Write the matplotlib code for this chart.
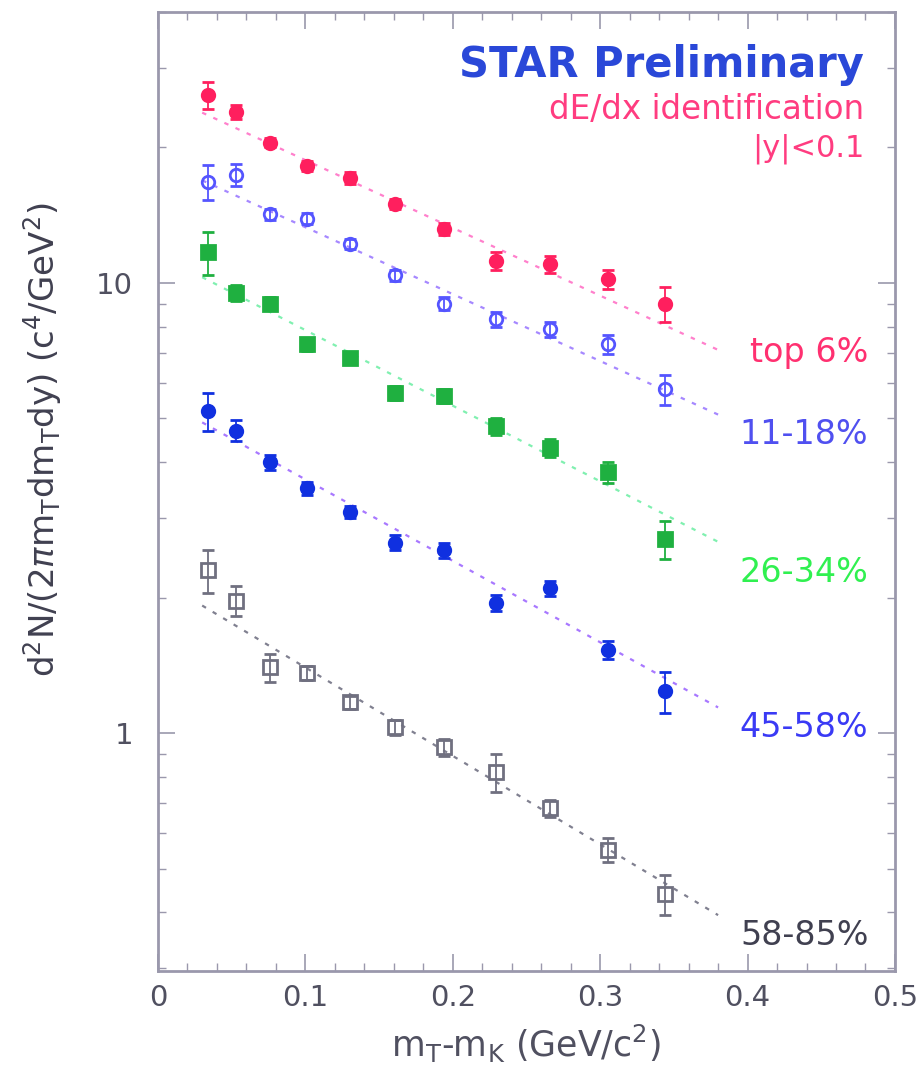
import matplotlib
matplotlib.use("Agg")
import matplotlib.pyplot as plt
from matplotlib.ticker import MultipleLocator, FixedLocator, NullFormatter

# mT - mK bin centres (GeV/c^2)
mt_mk = [0.034, 0.053, 0.076, 0.101, 0.130, 0.161, 0.194, 0.229, 0.266, 0.305, 0.344]

# spectra per centrality class
top6 = [26.2, 24.0, 20.5, 18.2, 17.1, 15.0, 13.2, 11.2, 11.0, 10.2, 9.0]
top6_err = [1.8, 0.9, 0.5, 0.5, 0.5, 0.4, 0.4, 0.5, 0.5, 0.5, 0.8]

c11_18 = [16.8, 17.4, 14.2, 13.9, 12.2, 10.4, 9.0, 8.3, 7.9, 7.3, 5.8]
c11_18_err = [1.5, 1.0, 0.4, 0.4, 0.3, 0.3, 0.3, 0.3, 0.3, 0.35, 0.45]

c26_34 = [11.7, 9.5, 9.0, 7.3, 6.8, 5.7, 5.6, 4.8, 4.3, 3.8, 2.7]
c26_34_err = [1.3, 0.4, 0.3, 0.25, 0.2, 0.2, 0.2, 0.2, 0.2, 0.2, 0.26]

c45_58 = [5.2, 4.7, 4.0, 3.5, 3.1, 2.65, 2.55, 1.95, 2.1, 1.53, 1.24]
c45_58_err = [0.5, 0.25, 0.15, 0.12, 0.1, 0.1, 0.1, 0.08, 0.08, 0.07, 0.13]

c58_85 = [2.30, 1.97, 1.40, 1.36, 1.17, 1.03, 0.93, 0.82, 0.68, 0.55, 0.44]
c58_85_err = [0.25, 0.15, 0.1, 0.05, 0.04, 0.04, 0.04, 0.08, 0.03, 0.034, 0.045]

# exponential fits, evaluated at the ends of the fit range
fit_x = [0.03, 0.38]
fit_top6 = [23.9, 7.1]
fit_11_18 = [16.9, 5.1]
fit_26_34 = [10.3, 2.66]
fit_45_58 = [4.9, 1.14]
fit_58_85 = [1.92, 0.394]

labels = ["top 6%", "11-18%", "26-34%", "45-58%", "58-85%"]

FONT = "DejaVu Sans"

fig = plt.figure(figsize=(9.2, 10.68), dpi=100)
ax = fig.add_axes([0.1717, 0.0908, 0.8011, 0.898])
ax.set_yscale("log")
ax.set_xlim(0, 0.5)
ax.set_ylim(0.296, 40)

series = [
    # data, err, fit, marker, face, edge, line colour, label colour, label y
    (top6, top6_err, fit_top6, "o", "#ff1f5e", "#ff1f5e", "#ff80cc", "#ff3070", 7.0),
    (c11_18, c11_18_err, fit_11_18, "o", "none", "#5555ff", "#a688ff", "#5050f0", 4.6),
    (c26_34, c26_34_err, fit_26_34, "s", "#1fb040", "#1fb040", "#80f0b0", "#30f050", 2.27),
    (c45_58, c45_58_err, fit_45_58, "o", "#1030e0", "#1030e0", "#a878ff", "#3a3af5", 1.03),
    (c58_85, c58_85_err, fit_58_85, "s", "none", "#707080", "#808090", "#404050", 0.355),
]

for (y, err, fit, mk, fc, ec, lc, tc, ly), lab in zip(series, labels):
    ax.plot(fit_x, fit, color=lc, lw=1.6, ls=(0, (2.0, 3.5)), zorder=1)
    ax.errorbar(mt_mk, y, yerr=err, fmt=mk, ms=9.5 if mk == "s" else 9,
                mfc=fc, mec=ec, mew=2, ecolor=ec, elinewidth=1.3,
                capsize=4, capthick=1.3, zorder=3)
    ax.text(0.482, ly, lab, color=tc, fontsize=24, ha="right", va="center",
            family=FONT)

ax.text(0.479, 30.5, "STAR Preliminary", color="#2a48d8", fontsize=30,
        fontweight="bold", ha="right", va="center", family=FONT)
ax.text(0.479, 24.3, "dE/dx identification", color="#ff3c80", fontsize=23.5,
        ha="right", va="center", family=FONT)
ax.text(0.479, 19.9, "|y|<0.1", color="#ff3c80", fontsize=22,
        ha="right", va="center", family=FONT)

frame = "#9a98ac"
for s in ax.spines.values():
    s.set_color(frame)
    s.set_linewidth(2)

ax.xaxis.set_major_locator(MultipleLocator(0.1))
ax.xaxis.set_minor_locator(MultipleLocator(0.02))
ax.xaxis.set_major_formatter(plt.FuncFormatter(lambda v, p: f"{v:g}"))
ax.yaxis.set_major_locator(FixedLocator([1, 10]))
ax.yaxis.set_major_formatter(plt.FuncFormatter(lambda v, p: f"{v:g}"))
ax.yaxis.set_minor_locator(FixedLocator([0.3, 0.4, 0.5, 0.6, 0.7, 0.8, 0.9,
                                          2, 3, 4, 5, 6, 7, 8, 9, 20, 30, 40]))
ax.yaxis.set_minor_formatter(NullFormatter())
ax.tick_params(which="both", direction="in", top=True, right=True,
               color=frame, labelcolor="#505060", labelsize=21)
ax.tick_params(which="major", length=12, width=1.2)
ax.tick_params(which="minor", length=6, width=1.0)
ax.tick_params(axis="y", pad=18)
ax.tick_params(axis="x", pad=9)
for t in ax.get_xticklabels() + ax.get_yticklabels():
    t.set_family(FONT)

ax.set_xlabel(r"m$_{\mathrm{T}}$-m$_{\mathrm{K}}$ (GeV/c$^{2}$)", fontsize=25,
              color="#505060", family=FONT, labelpad=8)
ax.set_ylabel(r"d$^{2}$N/(2$\pi$m$_{\mathrm{T}}$dm$_{\mathrm{T}}$dy) (c$^{4}$/GeV$^{2}$)",
              fontsize=24.5, color="#404050", family=FONT)
ax.yaxis.set_label_coords(-0.128, 0.554)

fig.savefig("out.png", dpi=100)
